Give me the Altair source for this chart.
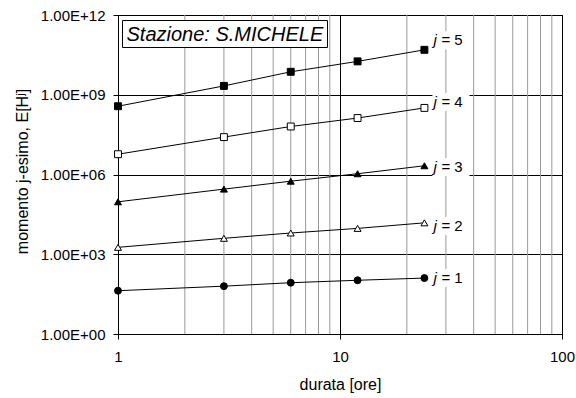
import altair as alt
import pandas as pd

# ---- data ----
durata = [1, 3, 6, 12, 24]
momento_j1 = [42.5, 63, 85, 105, 127]
momento_j2 = [1820, 3980, 6300, 9400, 15200]
momento_j3 = [9.4e4, 2.82e5, 5.6e5, 1.07e6, 2.13e6]
momento_j4 = [5.8e6, 2.55e7, 6.4e7, 1.33e8, 3.2e8]
momento_j5 = [3.7e8, 2.15e9, 7.3e9, 1.8e10, 4.9e10]
ordini = [1, 2, 3, 4, 5]
etichette_valore = [127, 1.15e4, 1.9e6, 5.3e8, 1.13e11]
x_ticks = [1, 10, 100]
x_minor = [2, 3, 4, 5, 6, 7, 8, 9, 20, 30, 40, 50, 60, 70, 80, 90]
y_ticks = [1, 1e3, 1e6, 1e9, 1e12]
stazione = "Stazione: S.MICHELE"

serie = [momento_j1, momento_j2, momento_j3, momento_j4, momento_j5]
rows = []
for j, vals in zip(ordini, serie):
    for d, v in zip(durata, vals):
        rows.append({"durata": d, "valore": v, "j": str(j)})
df = pd.DataFrame(rows)

lab = pd.DataFrame({
    "durata": [durata[-1]] * len(ordini),
    "valore": etichette_valore,
    "j": [str(j) for j in ordini],
    "testo": ["= %d" % j for j in ordini],
    "jj": ["j"] * len(ordini),
})
minor_df = pd.DataFrame({"durata": x_minor})

FONT = "Liberation Sans"

xs = alt.Scale(type="log", domain=[1, 100], nice=False)
ys = alt.Scale(type="log", domain=[1, 1e12], nice=False)

x_axis = alt.Axis(
    values=x_ticks, format="d", grid=True, gridColor="black", gridWidth=1,
    domainColor="black", domainWidth=1, tickColor="black", tickSize=5,
    labelFont=FONT, labelFontSize=15, labelColor="black", labelPadding=10,
    labelFlush=False,
    title="durata [ore]", titleFont=FONT, titleFontSize=16,
    titleFontWeight="normal", titleColor="black", titleX=222, titleY=55,
    titleBaseline="alphabetic", titleAlign="center",
)
y_axis = alt.Axis(
    values=y_ticks, grid=True, gridColor="black", gridWidth=1,
    domainColor="black", domainWidth=1, tickColor="black", tickSize=5,
    labelFont=FONT, labelFontSize=15, labelColor="black", labelPadding=8,
    labelFlush=False,
    labelExpr="'1.00E+' + (round(log(datum.value)/LN10) < 10 ? '0' : '') + round(log(datum.value)/LN10)",
    title="momento j-esimo, E[Hʲ]", titleFont=FONT, titleFontSize=16,
    titleFontWeight="normal", titleColor="black", titleX=-91, titleY=156,
    titleAngle=-90, titleBaseline="alphabetic", titleAlign="center",
)


def X(field="durata"):
    return alt.X(f"{field}:Q", scale=xs, axis=x_axis)


def Y(field="valore"):
    return alt.Y(f"{field}:Q", scale=ys, axis=y_axis)


minor = alt.Chart(minor_df).mark_rule(color="#999999", strokeWidth=1).encode(x=X())

lines = alt.Chart(df).mark_line(color="black", strokeWidth=1).encode(
    x=X(), y=Y(), detail="j:N"
)

points = alt.Chart(df).mark_point(
    filled=True, stroke="black", strokeWidth=1, size=48, opacity=1, fillOpacity=1
).encode(
    x=X(), y=Y(),
    shape=alt.Shape("j:N", scale=alt.Scale(
        domain=["1", "2", "3", "4", "5"],
        range=["circle", "triangle-up", "triangle-up", "square", "square"]), legend=None),
    fill=alt.Fill("j:N", scale=alt.Scale(
        domain=["1", "2", "3", "4", "5"],
        range=["black", "white", "black", "white", "black"]), legend=None),
)

lab_bg = alt.Chart(lab).mark_rect(
    fill="white", xOffset=8, x2Offset=45, yOffset=-9, y2Offset=9
).encode(x=X(), x2="durata:Q", y=Y(), y2="valore:Q")

lab_j = alt.Chart(lab).mark_text(
    align="left", baseline="middle", font=FONT, fontSize=15,
    fontStyle="italic", color="black", dx=9
).encode(x=X(), y=Y(), text="jj:N")

lab_n = alt.Chart(lab).mark_text(
    align="left", baseline="middle", font=FONT, fontSize=15,
    color="black", dx=17
).encode(x=X(), y=Y(), text="testo:N")

title_df = pd.DataFrame({"t": [stazione]})
title_box = alt.Chart(title_df).mark_rect(
    fill="white", stroke="black", strokeWidth=1
).encode(x=alt.value(4.5), x2=alt.value(209.5), y=alt.value(5.5), y2=alt.value(32.5))
title_txt = alt.Chart(title_df).mark_text(
    align="left", baseline="alphabetic", font=FONT, fontSize=20,
    fontStyle="italic", color="black"
).encode(x=alt.value(8.5), y=alt.value(26), text="t:N")

chart = alt.layer(
    minor, lab_bg, lines, points, lab_j, lab_n, title_box, title_txt
).properties(
    width=444, height=319,
    autosize=alt.AutoSizeParams(type="none"),
    padding={"left": 118, "top": 15, "right": 14, "bottom": 64},
    background="white",
).configure_view(stroke="black", strokeWidth=1)

chart.save("out.html", embed_options={"renderer": "svg", "actions": False})
